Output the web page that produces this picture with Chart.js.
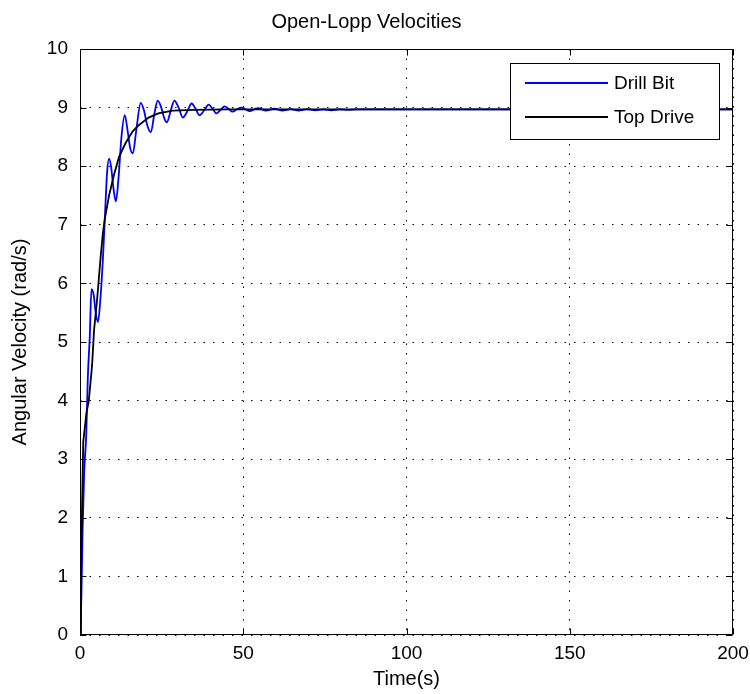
<!DOCTYPE html>
<html>
<head>
<meta charset="utf-8">
<script src="https://cdn.jsdelivr.net/npm/chart.js@4.4.1/dist/chart.umd.min.js"></script>
<style>
  html, body { margin: 0; padding: 0; background: #fff; }
  #wrap { width: 750px; height: 694px; }
</style>
</head>
<body>
<div id="wrap"><canvas id="velocities"></canvas></div>
<script>
// drill bit (blue)
const drillTime = [0, 0.4, 0.8, 1.3, 1.9, 2.4, 3.0, 3.5, 4.2, 4.8, 5.5, 6.2, 7.0, 7.6, 8.3, 8.9, 9.5, 10.3, 11.0, 11.8,
  12.7, 13.7, 14.6, 15.4, 16.2, 17.2, 18.6, 19.6, 20.6, 21.7, 22.8, 23.8, 24.9, 25.8, 26.6, 27.8, 28.9, 30.2, 31.5, 32.8,
  34.2, 35.4, 36.6, 38, 39.4, 40.6, 41.8, 43, 44.3, 45.5, 46.7, 48, 49.5, 50.7, 51.9, 54.4, 57, 59.5, 62, 64.5,
  67, 69.5, 72, 74.5, 77, 79.5, 82, 85, 200];
const drillVel = [0, 0.6, 1.8, 2.8, 3.4, 4.4, 5.1, 5.9, 5.8, 5.5, 5.34, 5.7, 6.4, 7.1, 7.9, 8.13, 8.0, 7.6, 7.4, 7.8,
  8.5, 8.87, 8.6, 8.3, 8.22, 8.6, 9.08, 8.95, 8.7, 8.58, 8.9, 9.12, 9.0, 8.82, 8.75, 8.95, 9.12, 9.0, 8.83, 8.93,
  9.07, 8.98, 8.87, 8.95, 9.05, 8.98, 8.9, 8.96, 9.02, 8.98, 8.93, 8.97, 9.0, 8.97, 8.94, 8.99, 8.95, 8.98, 8.95, 8.975,
  8.95, 8.975, 8.955, 8.97, 8.955, 8.97, 8.96, 8.97, 8.97];

// top drive (black)
const topTime = [0, 0.3, 0.6, 1.0, 2.0, 2.7, 3.7, 4.3, 5.2, 5.8, 6.4, 7.0, 7.6, 8.9, 10.4, 11.9, 14, 16.2, 18, 21,
  24, 28.4, 35, 45, 200];
const topVel = [0, 1.2, 2.1, 3.3, 3.8, 4.0, 4.6, 5.2, 5.7, 6.1, 6.5, 6.85, 7.1, 7.5, 7.85, 8.15, 8.4, 8.6, 8.7, 8.83,
  8.9, 8.95, 8.96, 8.97, 8.97];

const xTicks = [0, 50, 100, 150, 200];
const yTicks = [0, 1, 2, 3, 4, 5, 6, 7, 8, 9, 10];

const FONT = '"Liberation Sans", Arial, Helvetica, sans-serif';

function pts(t, v) {
  return t.map((x, i) => ({x: x, y: v[i]}));
}

// box round the axes and inward ticks, like matlab
const framePlugin = {
  id: 'frame',
  afterDatasetsDraw(chart) {
    const {ctx, chartArea: a, scales: {x, y}} = chart;
    const l = Math.round(a.left) + 0.5, r = Math.round(a.right) - 0.5;
    const t = Math.round(a.top) + 0.5, b = Math.round(a.bottom) - 0.5;
    ctx.save();
    ctx.strokeStyle = '#000';
    ctx.lineWidth = 1;
    ctx.beginPath();
    ctx.rect(l, t, r - l, b - t);
    const len = 6;
    xTicks.forEach(v => {
      const px = Math.round(x.getPixelForValue(v)) + 0.5;
      ctx.moveTo(px, b); ctx.lineTo(px, b - len);
      ctx.moveTo(px, t); ctx.lineTo(px, t + len);
    });
    yTicks.forEach(v => {
      const py = Math.round(y.getPixelForValue(v)) + 0.5;
      ctx.moveTo(l, py); ctx.lineTo(l + len, py);
      ctx.moveTo(r, py); ctx.lineTo(r - len, py);
    });
    ctx.stroke();
    ctx.restore();
  }
};

const legendPlugin = {
  id: 'boxLegend',
  afterDraw(chart) {
    const ctx = chart.ctx;
    const bx = 510.5, by = 63.5, bw = 209, bh = 76;
    ctx.save();
    ctx.fillStyle = '#fff';
    ctx.fillRect(bx, by, bw, bh);
    ctx.strokeStyle = '#000';
    ctx.lineWidth = 1;
    ctx.strokeRect(bx, by, bw, bh);
    ctx.font = '19px ' + FONT;
    ctx.textBaseline = 'middle';
    ctx.fillStyle = '#000';
    chart.data.datasets.forEach((ds, i) => {
      const ly = 83 + i * 34;
      ctx.strokeStyle = ds.borderColor;
      ctx.lineWidth = 2;
      ctx.beginPath();
      ctx.moveTo(525, ly); ctx.lineTo(608, ly);
      ctx.stroke();
      ctx.fillText(ds.label, 614, ly + 1);
    });
    ctx.restore();
  }
};

new Chart(document.getElementById('velocities'), {
  type: 'line',
  data: {
    datasets: [
      {
        label: 'Drill Bit',
        data: pts(drillTime, drillVel),
        borderColor: '#0000ff',
        borderWidth: 1.8,
        pointRadius: 0,
        cubicInterpolationMode: 'monotone',
        order: 2
      },
      {
        label: 'Top Drive',
        data: pts(topTime, topVel),
        borderColor: '#000000',
        borderWidth: 1.8,
        pointRadius: 0,
        tension: 0,
        order: 1
      }
    ]
  },
  options: {
    responsive: true,
    maintainAspectRatio: false,
    animation: false,
    layout: { padding: { left: 0, right: 17, top: 0, bottom: 0 } },
    scales: {
      x: {
        type: 'linear',
        min: 0,
        max: 200,
        afterFit(scale) {
          scale.height = 59;
          // let the "200" label hang over the padding
          scale.paddingLeft = 0;
          scale.paddingRight = 0;
        },
        afterBuildTicks(scale) { scale.ticks = xTicks.map(v => ({value: v})); },
        ticks: { padding: 7, color: '#000', font: { family: FONT, size: 19 }, maxRotation: 0 },
        grid: { color: '#000', lineWidth: 1, drawTicks: false },
        border: { display: false, dash: [1.5, 8] },
        title: { display: true, text: 'Time(s)', color: '#000', font: { family: FONT, size: 20 }, padding: { top: 3, bottom: 3 } }
      },
      y: {
        min: 0,
        max: 10,
        afterFit(scale) { scale.width = 80; },
        afterBuildTicks(scale) { scale.ticks = yTicks.map(v => ({value: v})); },
        ticks: { padding: 12, color: '#000', font: { family: FONT, size: 19 } },
        grid: { color: '#000', lineWidth: 1, drawTicks: false },
        border: { display: false, dash: [1.5, 8] },
        title: { display: true, text: 'Angular Velocity (rad/s)', color: '#000', font: { family: FONT, size: 20 }, padding: { top: 8, bottom: 8 } }
      }
    },
    plugins: {
      legend: { display: false },
      tooltip: { enabled: false },
      title: {
        display: true,
        text: 'Open-Lopp Velocities',
        color: '#000',
        font: { family: FONT, size: 20, weight: 'normal' },
        padding: { top: 10, bottom: 15 }
      }
    }
  },
  plugins: [framePlugin, legendPlugin]
});
</script>
</body>
</html>
